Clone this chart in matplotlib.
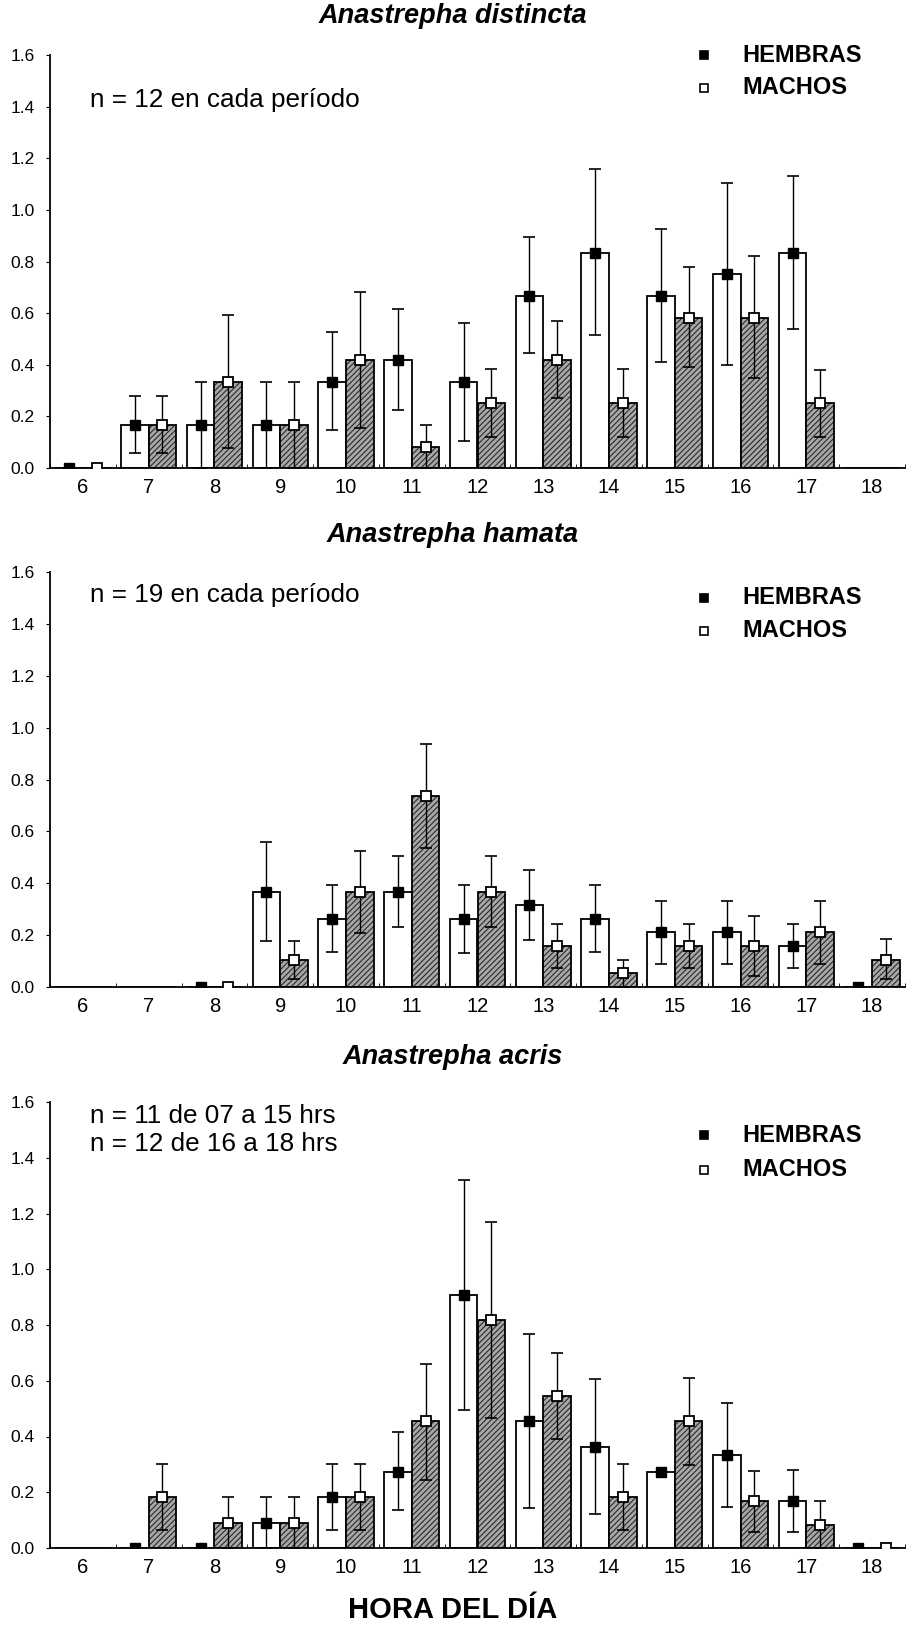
import numpy as np
import matplotlib
matplotlib.use('Agg')
import matplotlib.pyplot as plt
from matplotlib.ticker import MultipleLocator

plt.rcParams['font.family'] = ['Liberation Sans', 'DejaVu Sans']
plt.rcParams['hatch.linewidth'] = 0.8

nan = np.nan
hours = [6, 7, 8, 9, 10, 11, 12, 13, 14, 15, 16, 17, 18]

# A. distincta
dis_h = [0, .167, .167, .167, .333, .417, .333, .667, .833, .667, .75, .833, nan]
dis_h_lo = [0, .06, 0, 0, .147, .225, .105, .446, .515, .41, .40, .54, nan]
dis_h_hi = [0, .28, .333, .333, .527, .615, .562, .895, 1.16, .926, 1.105, 1.13, nan]
dis_m = [0, .167, .333, .167, .417, .083, .25, .417, .25, .583, .583, .25, nan]
dis_m_lo = [0, .06, .077, 0, .155, 0, .12, .27, .12, .39, .35, .12, nan]
dis_m_hi = [0, .28, .593, .333, .68, .167, .383, .57, .383, .78, .82, .38, nan]

# A. hamata
ham_h = [nan, nan, 0, .368, .263, .368, .263, .316, .263, .211, .211, .158, 0]
ham_h_lo = [nan, nan, 0, .177, .135, .231, .132, .183, .135, .087, .087, .073, 0]
ham_h_hi = [nan, nan, 0, .559, .392, .505, .392, .45, .392, .332, .332, .242, 0]
ham_m = [nan, nan, 0, .105, .368, .737, .368, .158, .053, .158, .158, .211, .105]
ham_m_lo = [nan, nan, 0, .03, .21, .536, .231, .073, 0, .073, .042, .087, .03]
ham_m_hi = [nan, nan, 0, .177, .524, .936, .505, .242, .103, .242, .272, .332, .186]

# A. acris
acr_h = [nan, 0, 0, .091, .182, .273, .909, .455, .364, .273, .333, .167, 0]
acr_h_lo = [nan, 0, 0, 0, .063, .135, .495, .143, .122, .273, .147, .057, 0]
acr_h_hi = [nan, 0, 0, .183, .30, .415, 1.32, .767, .605, .273, .52, .28, 0]
acr_m = [nan, .182, .091, .091, .182, .455, .818, .545, .182, .455, .167, .083, 0]
acr_m_lo = [nan, .063, 0, 0, .063, .245, .466, .39, .063, .298, .057, 0, 0]
acr_m_hi = [nan, .30, .183, .183, .30, .661, 1.17, .70, .30, .61, .276, .168, 0]

panels = [
    ('Anastrepha distincta', ['n = 12 en cada período'],
     (dis_h, dis_h_lo, dis_h_hi), (dis_m, dis_m_lo, dis_m_hi)),
    ('Anastrepha hamata', ['n = 19 en cada período'],
     (ham_h, ham_h_lo, ham_h_hi), (ham_m, ham_m_lo, ham_m_hi)),
    ('Anastrepha acris', ['n = 11 de 07 a 15 hrs', 'n = 12 de 16 a 18 hrs'],
     (acr_h, acr_h_lo, acr_h_hi), (acr_m, acr_m_lo, acr_m_hi)),
]

W, H = 907, 1625
fig = plt.figure(figsize=(W / 100, H / 100), dpi=100)


def fx(x):
    return x / W


def fy(y):
    return 1 - y / H


# axes boxes in pixels: top, bottom
boxes = [(55, 468), (572, 987), (1102, 1548)]
titles_y = [16, 535, 1057]
note_y = [[100], [595], [1116, 1144]]
leg_y = [(55, 88), (598, 631), (1135, 1170)]

x = np.array(hours, dtype=float)
bw = 0.42

for (title, notes, hem, mac), (top, bot), ty, ny, ly in zip(panels, boxes, titles_y, note_y, leg_y):
    ax = fig.add_axes([fx(50), fy(bot), fx(855), (bot - top) / H])
    hm, hlo, hhi = (np.array(a, dtype=float) for a in hem)
    mm, mlo, mhi = (np.array(a, dtype=float) for a in mac)
    xh = x - bw / 2
    xm = x + bw / 2

    ax.bar(xh, np.nan_to_num(hm), bw, color='white', edgecolor='black', lw=1.3, zorder=2)
    ax.bar(xm, np.nan_to_num(mm), bw, color='#a8a8a8', edgecolor='#2a2a2a', lw=0,
           hatch='//////', zorder=2)
    ax.bar(xm, np.nan_to_num(mm), bw, fill=False, edgecolor='black', lw=1.3, zorder=2)

    ax.errorbar(xh, hm, yerr=[hm - hlo, hhi - hm], fmt='none', ecolor='black',
                elinewidth=1.0, capsize=4.3, capthick=1.2, zorder=3)
    ax.errorbar(xm, mm, yerr=[mm - mlo, mhi - mm], fmt='none', ecolor='black',
                elinewidth=1.0, capsize=4.3, capthick=1.2, zorder=3)
    ax.plot(xh, hm, 's', color='black', ms=7, zorder=4)
    ax.plot(xm, mm, 's', mfc='white', mec='black', mew=1.3, ms=7, zorder=4)

    ax.set_xlim(5.52, 18.32)
    ax.set_ylim(0, 1.6)
    ax.yaxis.set_major_locator(MultipleLocator(0.2))
    ax.set_yticklabels([f'{v:.1f}' for v in ax.get_yticks()])
    ax.set_xticks(hours)
    ax.set_xticks(np.arange(5.5, 18.6, 1), minor=True)
    ax.tick_params(axis='x', which='major', length=0, pad=7, labelsize=14.5)
    ax.tick_params(axis='x', which='minor', length=3, direction='in')
    ax.tick_params(axis='y', length=3, direction='out', pad=8, labelsize=12.5)
    for s in ('top', 'right'):
        ax.spines[s].set_visible(False)
    ax.spines['left'].set_linewidth(1.3)
    ax.spines['bottom'].set_linewidth(1.3)

    fig.text(fx(453), fy(ty), title, ha='center', va='center', fontsize=19.5,
             fontweight='bold', fontstyle='italic')
    for t, yy in zip(notes, ny):
        fig.text(fx(90), fy(yy), t, ha='left', va='center', fontsize=18.8)
    for lab, yy, filled in zip(['HEMBRAS', 'MACHOS'], ly, [True, False]):
        ax.plot([fx(704)], [fy(yy)], 's', transform=fig.transFigure, clip_on=False,
                ms=6, mfc='black' if filled else 'white', mec='black', mew=1.2)
        fig.text(fx(742), fy(yy), lab, ha='left', va='center', fontsize=17,
                 fontweight='bold')

fig.text(fx(453), fy(1610), 'HORA DEL DÍA', ha='center', va='center', fontsize=21,
         fontweight='bold')

fig.savefig('out.png', dpi=100)
